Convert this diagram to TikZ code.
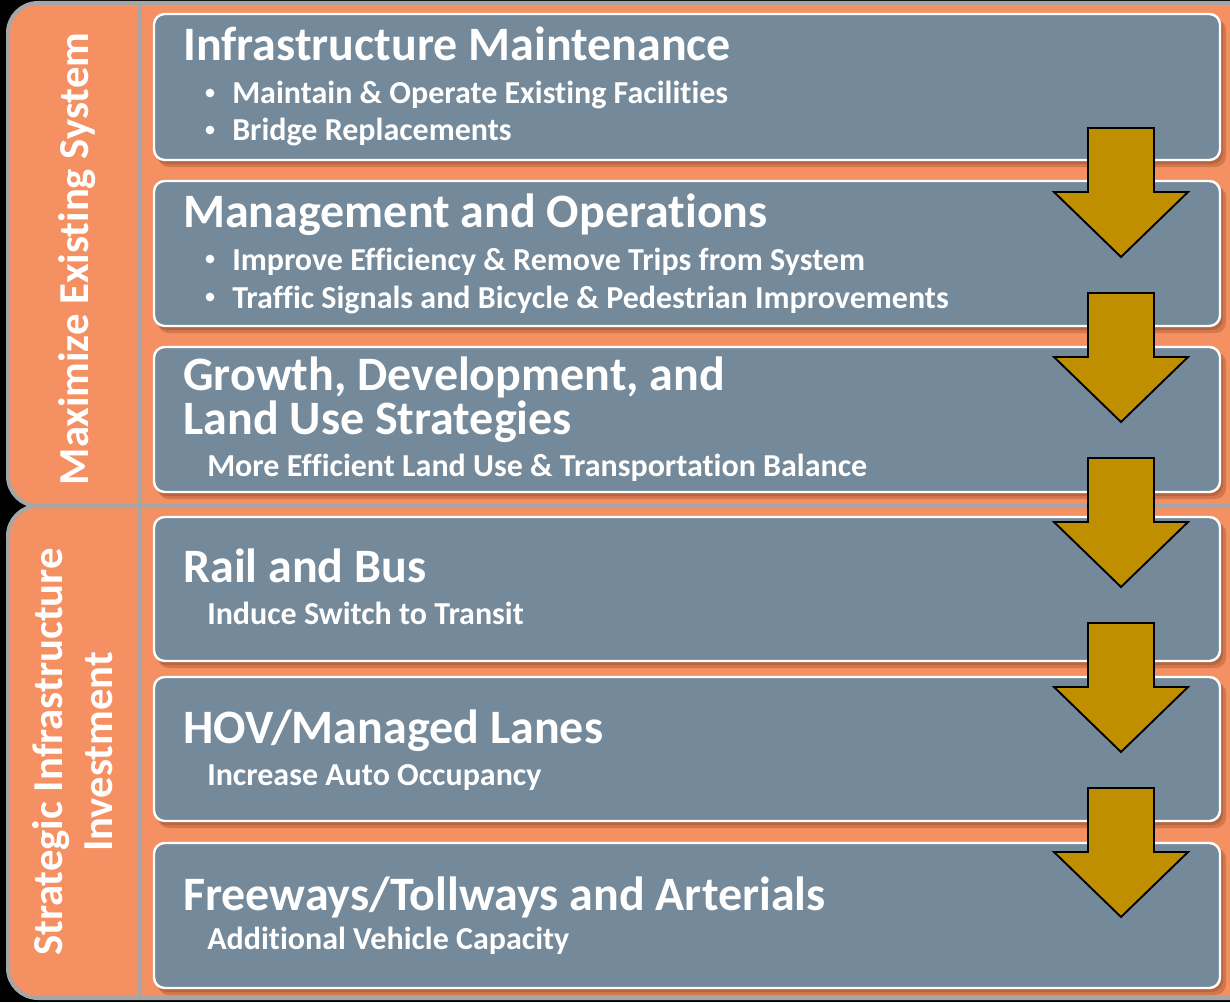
\documentclass[tikz,border=0pt]{standalone}
\usepackage{fontspec}
\setmainfont{Carlito}[Ligatures={NoCommon,NoContextual}]
\definecolor{orng}{RGB}{245,144,98}
\definecolor{grayb}{RGB}{166,166,166}
\definecolor{slate}{RGB}{116,137,153}
\definecolor{gold}{RGB}{191,143,0}
\definecolor{shad}{RGB}{110,50,20}
\begin{document}
\begin{tikzpicture}[x=0.75pt,y=-0.75pt,
  panel/.style={fill=orng, draw=grayb, line width=3pt, rounded corners=22.5pt},
  box/.style={fill=slate, draw=white, line width=1.8pt, rounded corners=8pt},
  boxshadow/.style={fill=shad, opacity=0.25, rounded corners=8pt},
  goldarrow/.style={fill=gold, draw=black, line width=1.4pt, line join=miter},
  ttl/.style={text=white, font=\fontsize{36}{43}\selectfont\bfseries, inner sep=0pt, anchor=base west},
  sub/.style={text=white, font=\fontsize{24}{29}\selectfont\bfseries, inner sep=0pt, anchor=base west},
  dot/.style={circle, fill=white, inner sep=0pt, minimum size=6.5pt},
  side/.style={text=white, font=\fontsize{32}{38}\selectfont\bfseries, inner sep=0pt, anchor=base, rotate=90}
]
\useasboundingbox (0,0) rectangle (1230,1002);
\clip (0,0) rectangle (1230,1002);
\fill[black] (0,0) rectangle (1230,1002);
% panels
\draw[panel] (8,3) rectangle (1280,506);
\draw[panel] (8,506) rectangle (1280,998);
\draw[grayb, line width=3pt] (140,3) -- (140,998);
% side labels
\node[side] (s1) at (88,259) {Maximize Existing System};
\node[side] (s2a) at (62,752) {Strategic Infrastructure};
\node[side] (s2b) at (112,752) {Investment};
% boxes with shadows
\foreach \ya/\yb in {14/160, 181/326, 347/492, 517/661, 677/821, 843/988} {
  \fill[boxshadow] (158,{\ya+5}) rectangle (1226,{\yb+7});
  \fill[boxshadow] (156,{\ya+3}) rectangle (1223,{\yb+4});
  \draw[box] (154,\ya) rectangle (1220,\yb);
}
% box 1
\node[ttl] (t1) at (183,61) {Infrastructure Maintenance};
\node[dot] (b1a) at (210,93) {};
\node[sub] (l1a) at (232,104) {Maintain \& Operate Existing Facilities};
\node[dot] (b1b) at (210,130) {};
\node[sub] (l1b) at (232,141) {Bridge Replacements};
% box 2
\node[ttl] (t2) at (183,227) {Management and Operations};
\node[dot] (b2a) at (210,259) {};
\node[sub] (l2a) at (232,270) {Improve Efficiency \& Remove Trips from System};
\node[dot] (b2b) at (210,297) {};
\node[sub] (l2b) at (232,308) {Traffic Signals and Bicycle \& Pedestrian Improvements};
% box 3
\node[ttl] (t3a) at (183,390) {Growth, Development, and};
\node[ttl] (t3b) at (183,434) {Land Use Strategies};
\node[sub] (l3) at (207,476) {More Efficient Land Use \& Transportation Balance};
% box 4
\node[ttl] (t4) at (183,582) {Rail and Bus};
\node[sub] (l4) at (207,624) {Induce Switch to Transit};
% box 5
\node[ttl] (t5) at (183,743) {HOV/Managed Lanes};
\node[sub] (l5) at (207,785) {Increase Auto Occupancy};
% box 6
\node[ttl] (t6) at (183,910) {Freeways/Tollways and Arterials};
\node[sub] (l6) at (207,949) {Additional Vehicle Capacity};
% arrows
\foreach \t in {128,293,458,623,788} {
  \draw[goldarrow] (1088,\t) -- (1154,\t) -- (1154,{\t+64}) -- (1188,{\t+64}) -- (1121,{\t+129}) -- (1054,{\t+64}) -- (1088,{\t+64}) -- cycle;
}
\end{tikzpicture}
\end{document}
